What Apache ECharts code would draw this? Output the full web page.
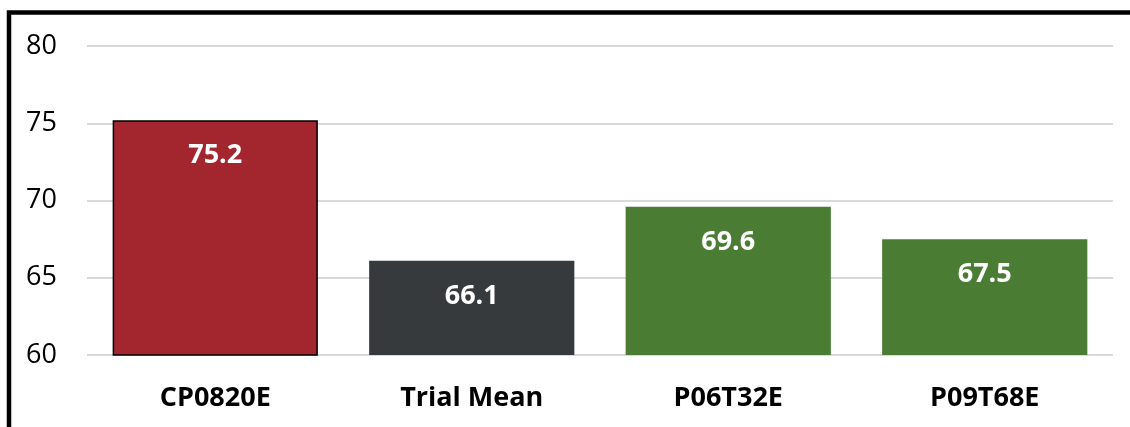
<!DOCTYPE html>
<html>
<head>
<meta charset="utf-8">
<script src="https://cdn.jsdelivr.net/npm/echarts@6/dist/echarts.min.js"></script>
<style>
html,body{margin:0;padding:0;background:#fff;overflow:hidden;}
#chart{width:1130px;height:427px;}
</style>
</head>
<body>
<div id="chart"></div>
<script>
const categories = ['CP0820E', 'Trial Mean', 'P06T32E', 'P09T68E'];
const values = [75.2, 66.1, 69.6, 67.5];
const barColors = ['#A3262F', '#363A3D', '#4A7C34', '#4A7C34'];
const barBorders = ['#000000', null, null, null];

const chart = echarts.init(document.getElementById('chart'), null, {renderer: 'canvas'});
const FONT = '"Open Sans", "Noto Sans", sans-serif';

chart.setOption({
  animation: false,
  backgroundColor: '#ffffff',
  graphic: [{
    type: 'rect',
    shape: {x: 9, y: 12.5, width: 1300, height: 600},
    style: {fill: 'none', stroke: '#000', lineWidth: 4.5},
    z: 100
  }],
  grid: {left: 87, right: 17, top: 46, bottom: 72, containLabel: false},
  xAxis: {
    type: 'category',
    data: categories,
    axisLine: {show: false},
    axisTick: {show: false},
    axisLabel: {
      margin: 30,
      color: '#000',
      fontFamily: FONT,
      fontWeight: 'bold',
      fontSize: 27
    }
  },
  yAxis: {
    type: 'value',
    min: 60,
    max: 80,
    interval: 5,
    axisLine: {show: false},
    axisTick: {show: false},
    splitLine: {lineStyle: {color: '#D9D9D9', width: 2}},
    axisLabel: {
      margin: 30,
      color: '#000',
      fontFamily: FONT,
      fontSize: 27
    }
  },
  series: [{
    type: 'bar',
    barWidth: '80%',
    data: values.map((v, i) => ({
      value: v,
      itemStyle: {
        color: barColors[i],
        borderColor: barBorders[i] || barColors[i],
        borderWidth: barBorders[i] ? 1.5 : 0
      }
    })),
    label: {
      show: true,
      position: 'insideTop',
      distance: 22,
      color: '#fff',
      fontFamily: FONT,
      fontWeight: 'bold',
      fontSize: 27,
      formatter: p => p.value.toFixed(1)
    }
  }]
});
</script>
</body>
</html>
